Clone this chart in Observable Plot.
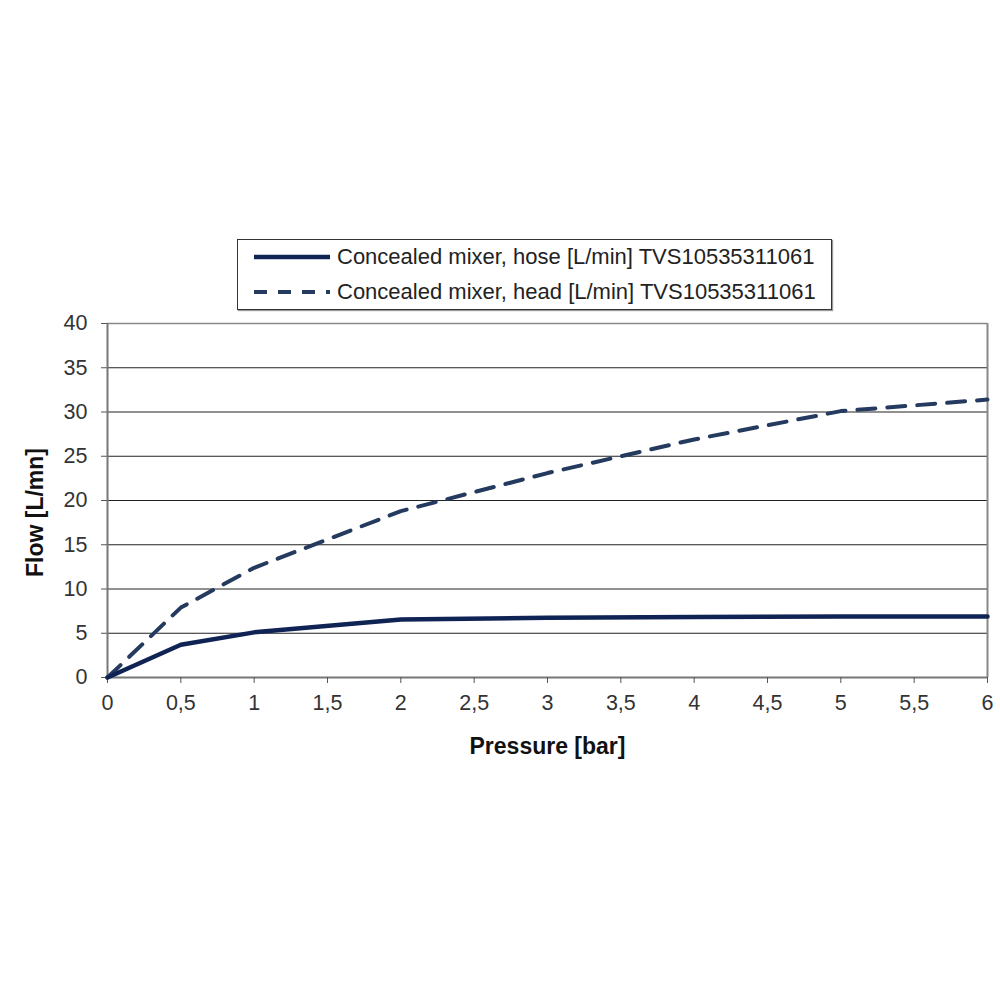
<!DOCTYPE html>
<html>
<head>
<meta charset="utf-8">
<script src="https://cdn.jsdelivr.net/npm/d3@7"></script>
<script src="https://cdn.jsdelivr.net/npm/@observablehq/plot@0.6"></script>
<style>
  html, body { margin: 0; padding: 0; background: #fff; }
  #wrap { position: relative; width: 1000px; height: 1000px; font-family: "Liberation Sans", Arial, sans-serif; }
  #legend { position: absolute; left: 237px; top: 239px; width: 595px; height: 71px; border: 1.5px solid #333; box-sizing: border-box; background: #fff; box-shadow: 1px 1px 1px #999; }
  .row { position: absolute; left: 0; height: 30px; display: flex; align-items: center; font-size: 22px; color: #222; white-space: nowrap; }
  .row svg { margin-left: 15px; margin-right: 6px; }
</style>
</head>
<body>
<div id="wrap">
  <div id="chart"></div>
  <div id="legend">
    <div class="row" style="top:2px"><svg width="78" height="10"><line x1="1" y1="5" x2="77" y2="5" stroke="#0f2455" stroke-width="4.5"/></svg><span>Concealed mixer, hose [L/min] TVS10535311061</span></div>
    <div class="row" style="top:37px"><svg width="78" height="10"><line x1="1" y1="5" x2="77" y2="5" stroke="#243a5e" stroke-width="4" stroke-dasharray="13,11"/></svg><span>Concealed mixer, head [L/min] TVS10535311061</span></div>
  </div>
</div>
<script>
const pressure = [0, 0.5, 1, 2, 3, 4, 5, 6];
const hoseFlow = [0, 3.7, 5.1, 6.55, 6.75, 6.85, 6.9, 6.9];
const headFlow = [0, 7.9, 12.4, 18.8, 23.1, 26.9, 30.1, 31.4];
const xTicks = [0, 0.5, 1, 1.5, 2, 2.5, 3, 3.5, 4, 4.5, 5, 5.5, 6];
const yTicks = [0, 5, 10, 15, 20, 25, 30, 35, 40];

const hose = pressure.map((p, i) => ({p, f: hoseFlow[i]}));
const head = pressure.map((p, i) => ({p, f: headFlow[i]}));
const fmt = d => String(d).replace(".", ",");

const chart = Plot.plot({
  width: 1000,
  height: 1000,
  marginLeft: 107,
  marginRight: 13,
  marginTop: 323,
  marginBottom: 323,
  style: {fontFamily: "'Liberation Sans', Arial, sans-serif", fontSize: "21.5px", color: "#222", background: "#fff"},
  x: {domain: [0, 6], ticks: xTicks, tickFormat: fmt, label: null},
  y: {domain: [0, 40], ticks: yTicks, label: null},
  marks: [
    Plot.ruleY(yTicks, {stroke: "#222", strokeWidth: 1.2}),
    Plot.ruleX([6], {stroke: "#888", strokeWidth: 2}),
    Plot.ruleY([40], {stroke: "#888", strokeWidth: 1.5}),
    Plot.ruleX([0], {stroke: "#777", strokeWidth: 2}),
    Plot.ruleY([0], {stroke: "#777", strokeWidth: 2}),
    Plot.axisX({ticks: xTicks, tickFormat: fmt, tickSize: 6, tickPadding: 11, stroke: "#555", fill: "#333", fontSize: 21.5}),
    Plot.axisY({ticks: yTicks, tickSize: 6, tickPadding: 14, stroke: "#555", fill: "#333", fontSize: 21.5}),
    Plot.line(head, {x: "p", y: "f", stroke: "#243a5e", strokeWidth: 4, strokeDasharray: "18,12"}),
    Plot.line(hose, {x: "p", y: "f", stroke: "#0f2455", strokeWidth: 4.5}),
    Plot.text(["Pressure [bar]"], {frameAnchor: "bottom", lineAnchor: "middle", dy: 69, fontWeight: "bold", fontSize: 23, fill: "#111"}),
    Plot.text(["Flow [L/mn]"], {frameAnchor: "left", textAnchor: "middle", lineAnchor: "middle", dx: -72, dy: 12, rotate: -90, fontWeight: "bold", fontSize: 23, fill: "#111"})
  ]
});
document.getElementById("chart").appendChild(chart);
</script>
</body>
</html>
